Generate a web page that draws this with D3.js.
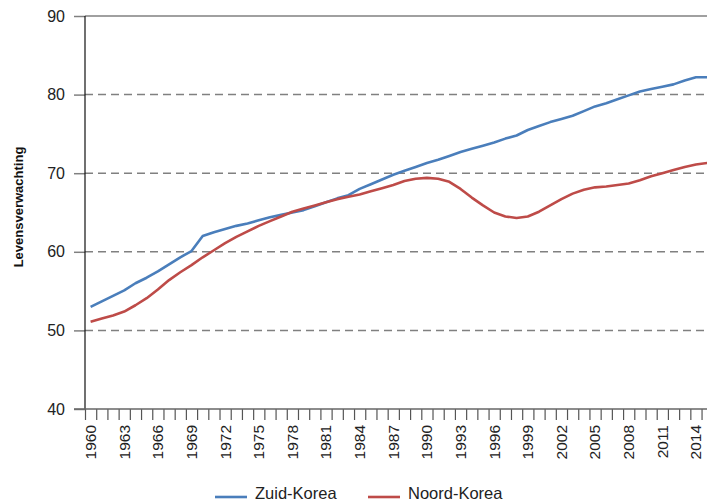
<!DOCTYPE html>
<html>
<head>
<meta charset="utf-8">
<script src="https://cdn.jsdelivr.net/npm/d3@7"></script>
<style>
  body { margin: 0; background: #fff; }
  svg { display: block; font-family: "Liberation Sans", Arial, sans-serif; }
</style>
</head>
<body>
<div id="chart"></div>
<script>
// Levensverwachting Zuid-Korea vs Noord-Korea, 1960-2015
var years = d3.range(1960, 2016);

var zuidKorea = [53.0, 53.7, 54.4, 55.1, 56.0, 56.7, 57.5, 58.4, 59.3, 60.1,
                 62.0, 62.5, 62.9, 63.3, 63.6, 64.0, 64.4, 64.7, 65.0, 65.3,
                 65.8, 66.3, 66.8, 67.2, 68.0, 68.6, 69.2, 69.8, 70.3, 70.8,
                 71.3, 71.7, 72.2, 72.7, 73.1, 73.5, 73.9, 74.4, 74.8, 75.5,
                 76.0, 76.5, 76.9, 77.3, 77.9, 78.5, 78.9, 79.4, 79.9, 80.4,
                 80.7, 81.0, 81.3, 81.8, 82.2, 82.2];

var noordKorea = [51.1, 51.5, 51.9, 52.4, 53.2, 54.1, 55.2, 56.4, 57.4, 58.3,
                  59.3, 60.2, 61.1, 61.9, 62.6, 63.3, 63.9, 64.5, 65.1, 65.5,
                  65.9, 66.3, 66.7, 67.0, 67.3, 67.7, 68.1, 68.5, 69.0, 69.3,
                  69.4, 69.3, 68.9, 68.0, 66.9, 65.9, 65.0, 64.5, 64.3, 64.5,
                  65.1, 65.9, 66.7, 67.4, 67.9, 68.2, 68.3, 68.5, 68.7, 69.1,
                  69.6, 70.0, 70.4, 70.8, 71.1, 71.3];

var yTicks = [40, 50, 60, 70, 80, 90];
var xLabelYears = d3.range(1960, 2016, 3);

var series = [
    { name: "Zuid-Korea", values: zuidKorea, color: "#4a7ebb" },
    { name: "Noord-Korea", values: noordKorea, color: "#be4b48" }
];

var width = 707, height = 504;
var margin = { top: 16, left: 85 };
var bandW = 11.21;
var plotRight = margin.left + bandW * years.length;

var svg = d3.select("#chart").append("svg")
    .attr("width", width)
    .attr("height", height);

// Scales
var x = d3.scaleBand()
    .domain(years)
    .range([margin.left, plotRight])
    .padding(0);

var xEdge = d3.scaleLinear()
    .domain([1960, 1960 + years.length])
    .range([margin.left, plotRight]);

var y = d3.scaleLinear()
    .domain([40, 90])
    .range([409, margin.top]);

// Gridlines
svg.append("g")
    .selectAll("line")
    .data(yTicks.filter(function(d) { return d > 40; }))
    .enter()
    .append("line")
    .attr("x1", margin.left)
    .attr("x2", plotRight)
    .attr("y1", function(d) { return y(d); })
    .attr("y2", function(d) { return y(d); })
    .attr("stroke", "#808080")
    .attr("stroke-width", 1.5)
    .attr("stroke-dasharray", function(d) { return d == 90 ? null : "8,5"; });

// Y axis
var yAxis = d3.axisLeft(y).tickValues(yTicks).tickSize(11).tickPadding(9);
var yAxisGroup = svg.append("g")
    .attr("transform", "translate(" + margin.left + ",0)")
    .call(yAxis);
yAxisGroup.select(".domain").remove();
yAxisGroup.selectAll(".tick line").attr("stroke", "#808080").attr("stroke-width", 1.5);
yAxisGroup.selectAll("text")
    .attr("font-size", 16)
    .attr("fill", "#222");

svg.append("line")
    .attr("x1", margin.left)
    .attr("x2", margin.left)
    .attr("y1", y(90))
    .attr("y2", y(40))
    .attr("stroke", "#111")
    .attr("stroke-width", 1.2);

// X axis: boundary ticks
var xTickAxis = d3.axisBottom(xEdge)
    .tickValues(d3.range(1960, 1960 + years.length + 1))
    .tickSize(11)
    .tickFormat("");
var xTickGroup = svg.append("g")
    .attr("transform", "translate(0," + y(40) + ")")
    .call(xTickAxis);
xTickGroup.select(".domain").remove();
xTickGroup.selectAll(".tick line").attr("stroke", "#555").attr("stroke-width", 1.2);

svg.append("line")
    .attr("x1", margin.left - 11)
    .attr("x2", width)
    .attr("y1", y(40))
    .attr("y2", y(40))
    .attr("stroke", "#666")
    .attr("stroke-width", 1.5);

// X axis: labels
var xAxis = d3.axisBottom(x).tickValues(xLabelYears).tickSize(0);
var xAxisGroup = svg.append("g")
    .attr("transform", "translate(0," + y(40) + ")")
    .call(xAxis);
xAxisGroup.select(".domain").remove();
xAxisGroup.selectAll("text")
    .attr("font-size", 15.5)
    .attr("fill", "#222")
    .attr("transform", "rotate(-90)")
    .attr("text-anchor", "end")
    .attr("x", -16)
    .attr("y", 0)
    .attr("dy", "0.35em");

// Y axis title
svg.append("text")
    .attr("transform", "translate(23,207) rotate(-90)")
    .attr("text-anchor", "middle")
    .attr("font-size", 13)
    .attr("font-weight", "bold")
    .attr("fill", "#111")
    .text("Levensverwachting");

// Lines
var line = d3.line()
    .x(function(d, i) { return x(years[i]) + x.bandwidth() / 2; })
    .y(function(d) { return y(d); });

svg.append("g")
    .selectAll("path")
    .data(series)
    .enter()
    .append("path")
    .attr("d", function(d) { return line(d.values); })
    .attr("fill", "none")
    .attr("stroke", function(d) { return d.color; })
    .attr("stroke-width", 2.6)
    .attr("stroke-linejoin", "round");

// Legend
var legendX = [215, 368];
var legend = svg.append("g")
    .selectAll("g")
    .data(series)
    .enter()
    .append("g")
    .attr("transform", function(d, i) { return "translate(" + legendX[i] + ",497)"; });

legend.append("line")
    .attr("x1", 0)
    .attr("x2", 32)
    .attr("stroke", function(d) { return d.color; })
    .attr("stroke-width", 2.6);

legend.append("text")
    .attr("x", 40)
    .attr("y", 2)
    .attr("font-size", 16.5)
    .attr("fill", "#222")
    .text(function(d) { return d.name; });
</script>
</body>
</html>
